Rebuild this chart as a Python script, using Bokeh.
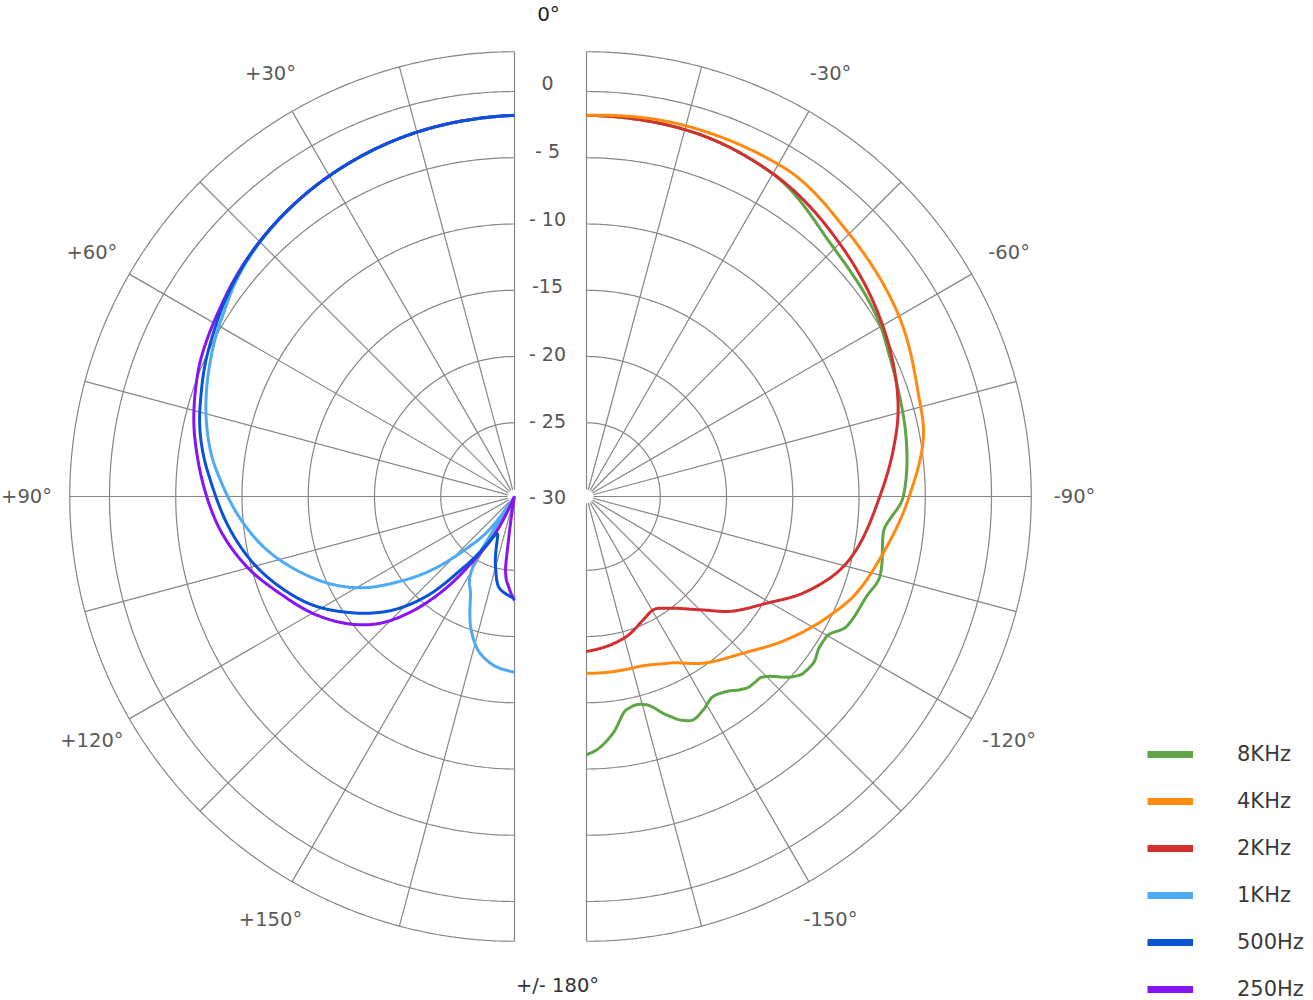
import numpy as np
from bokeh.plotting import figure
from bokeh.models import Range1d, Legend, LegendItem
from bokeh.core.properties import value
from bokeh.embed import file_html
from bokeh.resources import INLINE

# ---------------- data (angle in degrees from front, level in dB) ----------------
# right half (0 .. -180)
ang_8k = [0, 15, 30, 44.7, 59.5, 65.3, 72.4, 78.9, 90, 97, 105.3, 109.7, 116.6, 120.3, 122.7,
          126.3, 129.2, 131.1, 135, 136.3, 139.3, 141.6, 144.3, 147.6, 151.3, 154.5, 156.6,
          159.9, 163.9, 166.5, 169.4, 173.6, 177.7, 180]
db_8k = [-1.8, -1.9, -2.45, -4.1, -4.88, -5.37, -5.76, -6.01, -6.66, -8.0, -7.62, -8.13, -8.63,
         -9.6, -9.63, -9.33, -9.46, -9.88, -11.35, -11.62, -11.66, -11.95, -12.45, -12.7, -12.21,
         -11.89, -12.15, -13.02, -14.2, -14.4, -14.19, -12.59, -11.43, -11.07]

ang_4k = [0, 15, 30.9, 44.3, 60.2, 73.9, 77.8, 90, 100.8, 110.6, 115.3, 119.8, 125.6, 135, 145,
          153.4, 163.7, 180]
db_4k = [-1.8, -1.6, -1.62, -2.49, -3.35, -4.41, -4.57, -6.21, -7.77, -9.07, -9.97, -10.85,
         -12.0, -13.84, -15.21, -16.51, -17.15, -17.23]

ang_2k = [0, 15, 30, 45.1, 60.3, 70, 74.6, 81.5, 90, 104.4, 114, 120.7, 128.7, 134.6, 143.3,
          149.5, 155.3, 164, 172.4, 180]
db_2k = [-1.8, -1.9, -2.43, -3.56, -4.78, -5.67, -6.17, -7.17, -8.43, -10.31, -12.66, -14.78,
         -16.7, -18.38, -20.05, -20.64, -20.32, -19.58, -19.15, -18.87]

# left half (0 .. +180)
ang_1k = [0, 15, 30, 44.8, 52.4, 57.2, 61.4, 66.6, 71.6, 77.2, 82.9, 86.9, 93.6, 101.4, 108.8,
          115.4, 121.2, 126.1, 131.4, 136.8, 144.2, 146, 147.5, 148.4, 156.4, 162.1, 167.8,
          174.2, 180]
db_1k = [-1.8, -2.1, -2.62, -3.4, -4.0, -4.55, -4.95, -5.5, -6.05, -6.75, -7.6, -8.35, -9.6,
         -11.26, -13.24, -15.19, -17.27, -19.6, -22.1, -24.97, -28.3, -30.5, -30.5, -25.19,
         -22.27, -19.94, -18.42, -17.62, -17.3]

ang_500 = [0, 15, 30, 44.8, 52.4, 57.2, 61.4, 66.6, 71.6, 77.2, 82.9, 87, 96.8, 104.5, 111.2,
           118.5, 124.7, 128.4, 133.8, 139.2, 144.4, 155.1, 165, 170.2, 180]
db_500 = [-1.8, -2.1, -2.62, -3.35, -3.9, -4.3, -4.7, -5.15, -5.65, -6.2, -6.95, -7.59, -8.98,
          -10.25, -11.62, -13.33, -15.21, -16.38, -18.31, -20.87, -24.0, -27.46, -25.04,
          -23.62, -22.85]

ang_250 = [0, 15, 30, 44.8, 52.4, 57.2, 61.4, 66.6, 71.6, 77.2, 82.9, 87.1, 96.6, 104.8, 112.6,
           120.3, 128.5, 133.4, 138.5, 143.4, 147.5, 153, 157, 169, 172.2, 172.8, 176.4, 180]
db_250 = [-1.8, -2.1, -2.62, -3.35, -3.83, -4.17, -4.42, -4.74, -5.19, -5.75, -6.45, -6.97,
          -8.23, -9.7, -11.44, -13.02, -15.06, -16.65, -19.09, -22.04, -24.84, -27.69, -30.5,
          -30.5, -27.2, -25.2, -23.7, -22.72]

series_names = ["8KHz", "4KHz", "2KHz", "1KHz", "500Hz", "250Hz"]
series_colors = ["#5fa447", "#ff8a12", "#d2302e", "#4eaaf2", "#0a52d6", "#8714f2"]

db_ticks = [-30, -25, -20, -15, -10, -5, 0]
db_tick_labels = ["- 30", "- 25", "- 20", "-15", "- 10", "- 5", "0"]
ring_levels = [-25, -20, -15, -10, -5, 0, 3]
spoke_angles = [15, 30, 45, 60, 75, 90, 105, 120, 135, 150, 165]
label_angles = [30, 60, 90, 120, 150]
left_angle_labels = ["+30°", "+60°", "+90°", "+120°", "+150°"]
right_angle_labels = ["-30°", "-60°", "-90°", "-120°", "-150°"]

# ---------------- geometry ----------------
CX_L, CX_R, CY = 514.0, 586.0, 496.0
R0, K = 7.5, 13.25
OUTER = 3


def rad(db):
    return np.maximum(R0 + (np.asarray(db, dtype=float) + 30.0) * K, 0.0)


def polar(side, ang, db):
    t = np.radians(np.asarray(ang, dtype=float))
    r = rad(db)
    if side == "L":
        x = CX_L - r * np.sin(t)
    else:
        x = CX_R + r * np.sin(t)
    y = CY - r * np.cos(t)
    return x, y


def smooth_polar(ang, db, step=0.25):
    """Monotone cubic (PCHIP) rendering of level vs angle, for a smooth polar trace."""
    x = np.asarray(ang, dtype=float)
    y = np.asarray(db, dtype=float)
    h = np.diff(x)
    delta = np.diff(y) / h
    n = len(x)
    d = np.zeros(n)
    for k in range(1, n - 1):
        if delta[k - 1] * delta[k] > 0:
            w1 = 2 * h[k] + h[k - 1]
            w2 = h[k] + 2 * h[k - 1]
            d[k] = (w1 + w2) / (w1 / delta[k - 1] + w2 / delta[k])
    d[0] = delta[0]
    d[-1] = delta[-1]
    xs, ys = [], []
    for k in range(n - 1):
        m = max(2, int(np.ceil(h[k] / step)))
        t = np.linspace(0, 1, m, endpoint=False)
        h00 = 2 * t**3 - 3 * t**2 + 1
        h10 = t**3 - 2 * t**2 + t
        h01 = -2 * t**3 + 3 * t**2
        h11 = t**3 - t**2
        xs.append(x[k] + t * h[k])
        ys.append(h00 * y[k] + h10 * h[k] * d[k] + h01 * y[k + 1] + h11 * h[k] * d[k + 1])
    xs.append([x[-1]])
    ys.append([y[-1]])
    return np.concatenate(xs), np.concatenate(ys)


W, H = 1313, 1000
p = figure(width=W, height=H, output_backend="svg", toolbar_location=None,
           x_range=Range1d(0, W), y_range=Range1d(H, 0), min_border=0)
p.axis.visible = False
p.grid.visible = False
p.outline_line_color = None
p.background_fill_color = "white"

GRID = "#858585"
GW = 1.2

# rings and spokes on both halves
half = np.linspace(0, 180, 361)
for side in ("L", "R"):
    for lv in ring_levels:
        x, y = polar(side, half, np.full_like(half, lv))
        p.line(x, y, line_color=GRID, line_width=GW)
    xs0, ys0 = polar(side, spoke_angles, [-30.57] * len(spoke_angles))
    xs1, ys1 = polar(side, spoke_angles, [OUTER] * len(spoke_angles))
    p.segment(xs0, ys0, xs1, ys1, line_color=GRID, line_width=GW)
    xt, yt = polar(side, [0], [OUTER])
    xb, yb = polar(side, [180], [OUTER])
    p.segment(xt, yt, xb, yb, line_color=GRID, line_width=GW)

p.circle(x=[CX_L, CX_R], y=[CY, CY], radius=7, fill_color="white", line_color=None)

# curves
curves = {
    "8KHz": ("R", ang_8k, db_8k),
    "2KHz": ("R", ang_2k, db_2k),
    "4KHz": ("R", ang_4k, db_4k),
    "1KHz": ("L", ang_1k, db_1k),
    "250Hz": ("L", ang_250, db_250),
    "500Hz": ("L", ang_500, db_500),
}
color_of = dict(zip(series_names, series_colors))
for name, (side, a, d) in curves.items():
    sa, sd = smooth_polar(a, d)
    x, y = polar(side, sa, sd)
    p.line(x, y, line_color=color_of[name], line_width=3, line_join="round")

FONT_NAME = "DejaVu Sans"
FONT = value(FONT_NAME)

# legend (thick swatches; their own data sit outside the visible range)
items = []
for name in series_names:
    r = p.line(x=[-60, -50], y=[-60, -60], line_color=color_of[name], line_width=7)
    items.append(LegendItem(label=name, renderers=[r]))
legend = Legend(items=items, location=(1147, -1), glyph_width=46, glyph_height=24,
                label_height=24, label_standoff=44, spacing=23, padding=0, margin=0,
                border_line_color=None, background_fill_alpha=0,
                label_text_font=FONT_NAME, label_text_font_size="21px",
                label_text_color="#3a3a3a")
p.add_layout(legend)

LBL = "#5a5a5a"

# radial (dB) labels between the halves
mid_x = (CX_L + CX_R) / 2 - 3
lab_r = np.where(np.asarray(db_ticks) <= -30, 0.0, rad(db_ticks) * 1.02)
p.text(x=[mid_x] * len(db_ticks), y=list(CY - lab_r), text=db_tick_labels,
       text_font=FONT, text_font_size="19px", text_color="#555555",
       text_align="center", text_baseline="middle")

# angle labels
LR = 488
ta = np.radians(label_angles)
p.text(x=list(CX_L - LR * np.sin(ta)), y=list(CY - LR * np.cos(ta)), text=left_angle_labels,
       text_font=FONT, text_font_size="19.5px", text_color=LBL,
       text_align="center", text_baseline="middle")
p.text(x=list(CX_R + LR * np.sin(ta)), y=list(CY - LR * np.cos(ta)), text=right_angle_labels,
       text_font=FONT, text_font_size="19.5px", text_color=LBL,
       text_align="center", text_baseline="middle")
p.text(x=[(CX_L + CX_R) / 2 - 2], y=[CY - LR + 5], text=["0°"],
       text_font=FONT, text_font_size="20px", text_color="#222222",
       text_align="center", text_baseline="middle")
p.text(x=[(CX_L + CX_R) / 2 + 7], y=[CY + LR + 1], text=["+/- 180°"],
       text_font=FONT, text_font_size="19.5px", text_color="#333333",
       text_align="center", text_baseline="middle")

open("out.html", "w").write(file_html(p, INLINE))
